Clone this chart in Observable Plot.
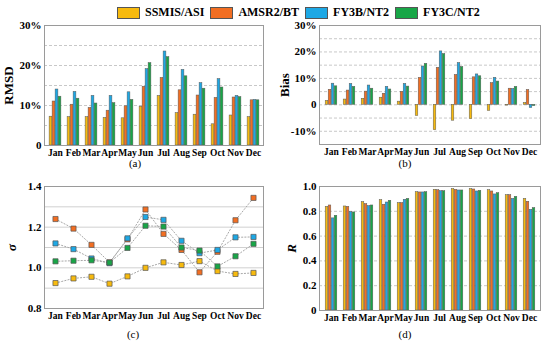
<!DOCTYPE html>
<html>
<head>
<meta charset="utf-8">
<script src="https://cdn.jsdelivr.net/npm/d3@7"></script>
<script src="https://cdn.jsdelivr.net/npm/@observablehq/plot@0.6"></script>
<style>
  html, body { margin: 0; padding: 0; background: #fff; }
  #root { position: relative; width: 550px; height: 347px; overflow: hidden; font-family: "Liberation Serif", serif; }
  #root svg, #root svg text { font-family: "Liberation Serif", serif !important; }
  .panel { position: absolute; }
  .legend { position: absolute; top: 5px; left: 117px; display: flex; align-items: center; font-weight: bold; font-size: 12px; white-space: nowrap; }
  .legend .item { display: flex; align-items: center; margin-right: 6px; }
  .legend .sw { width: 21px; height: 10px; border: 0.8px solid #555; margin-right: 5px; }
  .cap { position: absolute; font-size: 11px; transform: translate(-50%, -50%); }
</style>
</head>
<body>
<div id="root"></div>
<script>
const months = ["Jan","Feb","Mar","Apr","May","Jun","Jul","Aug","Sep","Oct","Nov","Dec"];
const series = ["SSMIS/ASI","AMSR2/BT","FY3B/NT2","FY3C/NT2"];
const colors = ["#F7BA0E","#F26E22","#1DA8E5","#18A647"];

// (a) RMSD, %
const rmsdSSMIS = [7.2, 7.1, 7.1, 6.9, 6.8, 9.7, 12.4, 8.1, 7.7, 5.3, 7.5, 7.1];
const rmsdAMSR  = [11.0, 10.2, 9.4, 8.7, 9.8, 14.7, 16.9, 13.8, 12.5, 11.9, 12.0, 11.3];
const rmsdFY3B  = [14.0, 13.4, 12.4, 12.4, 13.3, 19.1, 23.5, 18.9, 15.6, 16.6, 12.4, 11.4];
const rmsdFY3C  = [12.2, 11.7, 10.5, 10.6, 11.4, 20.6, 22.1, 17.3, 14.2, 14.5, 12.1, 11.3];

// (b) Bias, %
const biasSSMIS = [1.5, 2.0, 2.3, 2.7, 1.2, -4.2, -9.6, -6.0, -5.4, -2.3, -0.3, 0.7];
const biasAMSR  = [5.7, 5.4, 5.0, 4.2, 4.9, 10.2, 14.0, 11.3, 10.4, 8.2, 6.1, 5.6];
const biasFY3B  = [8.0, 7.9, 7.3, 6.8, 7.9, 14.5, 20.2, 15.8, 11.5, 10.2, 6.0, -1.2];
const biasFY3C  = [7.0, 6.8, 6.1, 5.8, 6.9, 15.5, 19.2, 14.3, 10.8, 8.8, 6.8, -0.5];

// (c) sigma
const sigSSMIS = [0.925, 0.948, 0.956, 0.922, 0.958, 1.000, 1.027, 1.014, 1.033, 0.984, 0.970, 0.975];
const sigAMSR  = [1.240, 1.193, 1.113, 1.027, 1.140, 1.287, 1.167, 1.088, 0.978, 1.079, 1.234, 1.344];
const sigFY3B  = [1.120, 1.092, 1.046, 1.023, 1.145, 1.250, 1.236, 1.133, 1.072, 1.088, 1.150, 1.152];
const sigFY3C  = [1.032, 1.035, 1.037, 1.026, 1.098, 1.207, 1.203, 1.100, 1.085, 1.007, 1.057, 1.118];

// (d) R
const rSSMIS = [0.836, 0.839, 0.874, 0.890, 0.866, 0.954, 0.973, 0.979, 0.979, 0.970, 0.930, 0.900];
const rAMSR  = [0.847, 0.836, 0.858, 0.853, 0.866, 0.952, 0.970, 0.973, 0.976, 0.960, 0.930, 0.877];
const rFY3B  = [0.743, 0.794, 0.842, 0.871, 0.893, 0.952, 0.962, 0.968, 0.960, 0.936, 0.900, 0.812];
const rFY3C  = [0.764, 0.791, 0.847, 0.885, 0.900, 0.954, 0.962, 0.968, 0.965, 0.946, 0.917, 0.826];

// panel tick / grid settings
const rmsdTicks = [0, 10, 20, 30], rmsdGrid = [5, 10, 15, 20, 25];
const biasTicks = [-10, 0, 10, 20, 30], biasGrid = [-10, -5, 0, 5, 10, 15, 20, 25];
const sigTicks = [0.8, 1.0, 1.2, 1.4], sigGrid = [0.9, 1.0, 1.1, 1.2, 1.3];
const rTicks = [0, 0.2, 0.4, 0.6, 0.8, 1.0], rGrid = [0.2, 0.4, 0.6, 0.8];
const captions = ["(a)", "(b)", "(c)", "(d)"];

function tidy(arrs) {
  return arrs.flatMap((a, si) => a.map((v, mi) => ({month: months[mi], series: series[si], value: v})));
}

const pctFmt = d => d === 0 ? "0" : d + "%";
const decFmt = d => d === 0 ? "0" : d.toFixed(1);

const baseStyle = {fontFamily: "'Liberation Serif', serif", fontWeight: "bold", fontSize: "11px", background: "transparent", overflow: "visible"};

function yAxis(ticks, fmt, label, labelOffset) {
  return Plot.axisY({ticks, tickFormat: fmt, tickSize: 0, tickPadding: 3, label, labelAnchor: "center", labelArrow: "none", labelOffset});
}
function xAxis() {
  return Plot.axisX({tickSize: 0, tickPadding: 4, fontSize: 9.5, label: null});
}

function barPanel(o) {
  const data = tidy(o.arrays);
  const bw = (o.width - o.ml - o.mr) / 12;
  const barW = 3;
  const pad = (bw - 4 * barW) / 2;
  return Plot.plot({
    width: o.width, height: o.height,
    marginLeft: o.ml, marginRight: o.mr, marginTop: o.mt, marginBottom: o.mb,
    style: baseStyle,
    x: {domain: months, padding: 0},
    y: {domain: o.domain},
    marks: [
      Plot.gridY(o.grid, {stroke: "#c8c8c8", strokeOpacity: 1, strokeDasharray: "3,2"}),
      ...series.map((s, i) => Plot.barY(data.filter(d => d.series === s), {
        x: "month", y: "value", fill: colors[i], stroke: "#5a5a5a", strokeWidth: 0.5,
        insetLeft: pad + i * barW, insetRight: bw - pad - (i + 1) * barW
      })),
      Plot.frame({stroke: "#9a9a9a", strokeWidth: 1}),
      xAxis(),
      yAxis(o.ticks, o.fmt, o.label, o.labelOffset)
    ]
  });
}

function dotPanel(o) {
  const data = tidy(o.arrays);
  return Plot.plot({
    width: o.width, height: o.height,
    marginLeft: o.ml, marginRight: o.mr, marginTop: o.mt, marginBottom: o.mb,
    style: baseStyle,
    x: {domain: months, type: "point", padding: 0.5},
    y: {domain: o.domain},
    color: {domain: series, range: colors},
    marks: [
      Plot.gridY(o.grid, {stroke: "#d0d0d0", strokeOpacity: 1}),
      Plot.line(data, {x: "month", y: "value", z: "series", stroke: "#a8a8a8", strokeWidth: 1, strokeDasharray: "1.2,2"}),
      Plot.dot(data, {x: "month", y: "value", fill: "series", symbol: "square", r: 2.9, stroke: "#555", strokeWidth: 0.7}),
      Plot.frame({stroke: "#9a9a9a", strokeWidth: 1}),
      xAxis(),
      yAxis(o.ticks, o.fmt, o.label, o.labelOffset)
    ]
  });
}

const root = document.getElementById("root");

function place(svg, left, top, italic) {
  svg.classList.add("panel");
  svg.style.left = left + "px";
  svg.style.top = top + "px";
  svg.querySelectorAll('[aria-label="y-axis label"] text').forEach(t => {
    t.setAttribute("font-size", "13");
    t.style.fontSize = "13px";
    if (italic) t.style.fontStyle = "italic";
  });
  root.appendChild(svg);
}

place(barPanel({arrays: [rmsdSSMIS, rmsdAMSR, rmsdFY3B, rmsdFY3C], width: 275, height: 170, ml: 44, mr: 12, mt: 25, mb: 25,
  domain: [0, 30], ticks: rmsdTicks, grid: rmsdGrid, fmt: pctFmt, label: "RMSD", labelOffset: 41}), 0, 0, false);

place(barPanel({arrays: [biasSSMIS, biasAMSR, biasFY3B, biasFY3C], width: 275, height: 170, ml: 44, mr: 10, mt: 25, mb: 26,
  domain: [-15, 30], ticks: biasTicks, grid: biasGrid, fmt: pctFmt, label: "Bias", labelOffset: 40}), 275, 0, false);

place(dotPanel({arrays: [sigSSMIS, sigAMSR, sigFY3B, sigFY3C], width: 275, height: 177, ml: 44, mr: 12, mt: 16, mb: 39,
  domain: [0.8, 1.4], ticks: sigTicks, grid: sigGrid, fmt: decFmt, label: "σ", labelOffset: 38}), 0, 170, true);

place(barPanel({arrays: [rSSMIS, rAMSR, rFY3B, rFY3C], width: 275, height: 177, ml: 44, mr: 10, mt: 16, mb: 37,
  domain: [0, 1], ticks: rTicks, grid: rGrid, fmt: decFmt, label: "R", labelOffset: 33}), 275, 170, true);

// legend
const legend = document.createElement("div");
legend.className = "legend";
series.forEach((s, i) => {
  const item = document.createElement("div");
  item.className = "item";
  const sw = document.createElement("div");
  sw.className = "sw";
  sw.style.background = colors[i];
  const tx = document.createElement("span");
  tx.textContent = s;
  item.appendChild(sw); item.appendChild(tx);
  legend.appendChild(item);
});
root.appendChild(legend);

// captions
[[135, 163], [405, 163], [133, 334], [405, 334]].forEach((p, i) => {
  const c = document.createElement("div");
  c.className = "cap";
  c.style.left = p[0] + "px";
  c.style.top = p[1] + "px";
  c.textContent = captions[i];
  root.appendChild(c);
});
</script>
</body>
</html>
